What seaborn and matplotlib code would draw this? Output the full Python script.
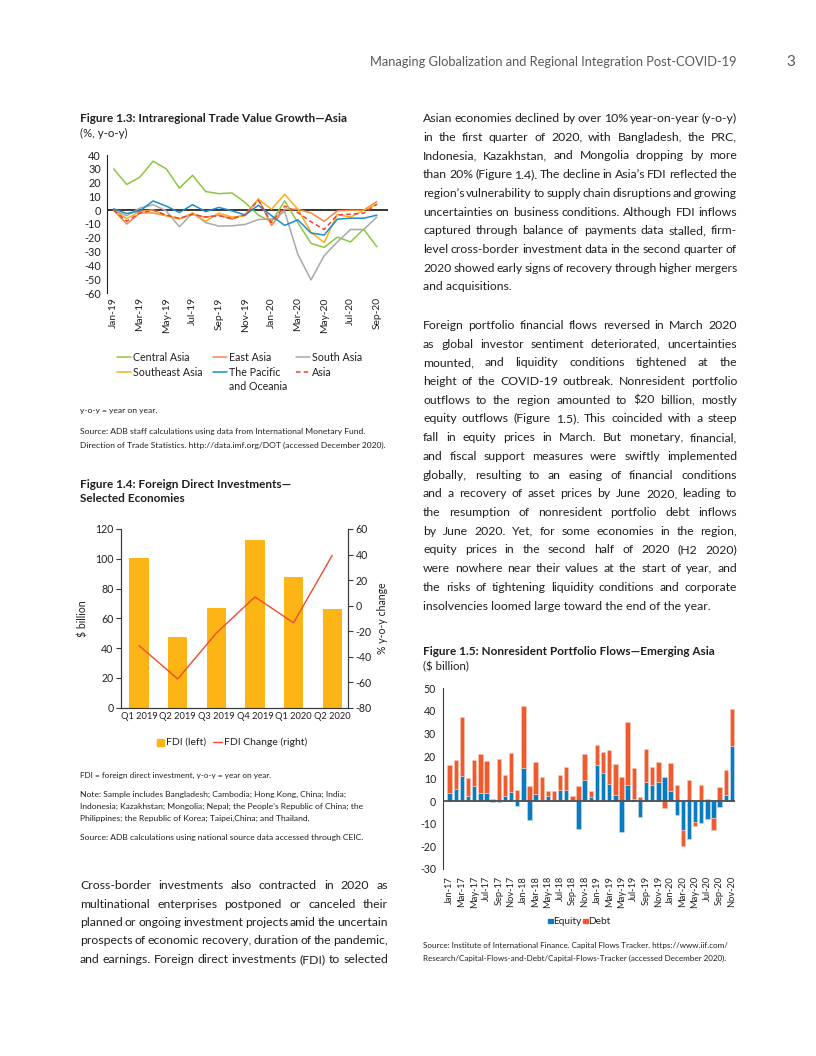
import numpy as np
import pandas as pd
import matplotlib
matplotlib.use("Agg")
import matplotlib.pyplot as plt
import seaborn as sns
from matplotlib.lines import Line2D
from matplotlib.patches import Rectangle

sns.set_theme(style="white")
plt.rcParams['font.family'] = ['Lato', 'DejaVu Sans']
plt.rcParams['axes.unicode_minus'] = False

# ---------------- Figure 1.3 data ----------------
months13 = ["Jan-19", "Feb-19", "Mar-19", "Apr-19", "May-19", "Jun-19", "Jul-19",
            "Aug-19", "Sep-19", "Oct-19", "Nov-19", "Dec-19", "Jan-20", "Feb-20",
            "Mar-20", "Apr-20", "May-20", "Jun-20", "Jul-20", "Aug-20", "Sep-20"]
central_asia = [30, 18.6, 24, 35.5, 30, 16, 25.3, 13.5, 12, 12.5, 5.5, -3.6, -8.5, 6.7,
                -9, -24, -27, -19.5, -23, -13.7, -26.5]
east_asia = [0, -10, -2, -2, -4, -6, -3, -5, -3.5, -6.5, -3, 8, -11, 0.7, 0.7, -2, -8,
             -0.5, 0, 0, 6.3]
south_asia = [0, -4, 1.5, 4, -0.5, -12, -2, -9, -11.5, -11.3, -10.3, -6.8, -6.3, -1,
              -32, -50.5, -33, -23, -14, -14, -5]
southeast_asia = [0, -6, -1, 0.3, -4, -6.5, -2, -8, -2, -5, -4, 8, 0.7, 11.5, 0.7, -16,
                  -23.4, -3, -5, 0, 4.3]
pacific = [1, -2.4, -0.5, 6.7, 3, -1.7, 4, -1, 2, -0.5, -3.4, 3.6, -4, -11, -7, -16.5,
           -18, -6.5, -5.8, -5.8, -3.6]
asia_total = [0, -8, -2, 0, -3.5, -6, -3, -5, -4, -6, -3.4, 7.2, -9, 3, -1.7, -8.4,
              -14, -3.4, -2.9, -2.2, 4.3]

# ---------------- Figure 1.4 data ----------------
quarters = ["Q1 2019", "Q2 2019", "Q3 2019", "Q4 2019", "Q1 2020", "Q2 2020"]
fdi = [100.5, 47.7, 66.8, 112.5, 88, 66.5]
fdi_change = [-31.4, -57.5, -21.5, 6.8, -13.5, 39.3]

# ---------------- Figure 1.5 data ----------------
months15 = ["Jan-17", "Feb-17", "Mar-17", "Apr-17", "May-17", "Jun-17", "Jul-17", "Aug-17",
            "Sep-17", "Oct-17", "Nov-17", "Dec-17", "Jan-18", "Feb-18", "Mar-18", "Apr-18",
            "May-18", "Jun-18", "Jul-18", "Aug-18", "Sep-18", "Oct-18", "Nov-18", "Dec-18",
            "Jan-19", "Feb-19", "Mar-19", "Apr-19", "May-19", "Jun-19", "Jul-19", "Aug-19",
            "Sep-19", "Oct-19", "Nov-19", "Dec-19", "Jan-20", "Feb-20", "Mar-20", "Apr-20",
            "May-20", "Jun-20", "Jul-20", "Aug-20", "Sep-20", "Oct-20", "Nov-20"]
equity = [3.4, 5.6, 11.1, 2.5, 6.8, 3.6, 3.6, -0.5, -0.3, 2.5, 4.1, -2.3, 14.5, -8.3, 3.1,
          0.7, 2.5, 0.4, 4.9, 4.9, 0.7, -12.5, 9.5, 1.8, 16.1, 12.3, 7.4, 2.8, -13.5, 7.0,
          1.0, -6.8, 8.4, 7.0, 8.7, 10.7, 4.3, -6.1, -12.8, -16.7, -9.3, -9.8, -8.1, -7.5,
          -2.6, 2.9, 24.5]
debt = [12.5, 12.6, 26.4, 7.6, 11.4, 17.4, 14.2, 0.8, 18.5, 8.9, 17.1, 4.9, 27.7, 6.7,
        14.2, 10.0, 1.9, 3.9, 6.8, 10.1, 1.5, 6.8, 11.5, 2.5, 8.6, 9.5, 15.4, 13.6, 10.7,
        28.1, 13.7, 1.8, 14.9, 8.0, 8.6, -3.1, 12.7, 7.0, -7.2, 9.2, -1.8, 7.0, 0.8, -5.3,
        6.1, 10.9, 16.5]

# ---------------- colours ----------------
C_CENTRAL = "#8cc63f"
C_EAST = "#f4874b"
C_SOUTH = "#a7a9ac"
C_SEA = "#fcaf17"
C_PAC = "#1c8ccd"
C_ASIA = "#ef4136"
C_GOLD = "#fdb515"
C_FDILINE = "#ef4b2f"
C_EQ = "#0b7bbf"
C_DEBT = "#ef5a2f"
TXT = "#231f20"

W, H = 816, 1056
fig = plt.figure(figsize=(W / 100, H / 100), dpi=100)
fig.patch.set_facecolor("white")


def fx(x):
    return x / W


def fy(y):
    return 1 - y / H


def axes_px(x0, y0, x1, y1):
    return fig.add_axes([fx(x0), fy(y1), (x1 - x0) / W, (y1 - y0) / H])


renderer = fig.canvas.get_renderer()


def justified(lines, x0, x1, y_first, dy, size, last_left=True, color=TXT):
    target = x1 - x0
    for i, line in enumerate(lines):
        yb = fy(y_first + i * dy)
        words = line.split()
        if (i == len(lines) - 1 and last_left) or len(words) == 1:
            fig.text(fx(x0), yb, line, fontsize=size, color=color, va="baseline", ha="left")
            continue
        fs = size
        ts = [fig.text(0, yb, w, fontsize=fs, color=color, va="baseline", ha="left")
              for w in words]
        widths = [t.get_window_extent(renderer).width for t in ts]
        min_gap = 1.8
        need = sum(widths) + min_gap * (len(words) - 1)
        if need > target:
            fs = size * (target - min_gap * (len(words) - 1)) / sum(widths)
            for t in ts:
                t.set_fontsize(fs)
            widths = [t.get_window_extent(renderer).width for t in ts]
        gap = (target - sum(widths)) / (len(words) - 1)
        x = x0
        for t, w in zip(ts, widths):
            t.set_x(fx(x))
            x += w + gap


def plain(lines, x0, y_first, dy, size, weight="normal", color=TXT):
    for i, line in enumerate(lines):
        fig.text(fx(x0), fy(y_first + i * dy), line, fontsize=size, color=color,
                 va="baseline", ha="left", fontweight=weight)


# ---------------- header ----------------
fig.text(fx(737), fy(62), "Managing Globalization and Regional Integration Post-COVID-19",
         ha="right", va="center", fontsize=9.3, color="#58595b")
fig.text(fx(791), fy(62), "3", ha="center", va="center", fontsize=11, color="#58595b")

# ---------------- Figure 1.3 ----------------
plain(["Figure 1.3: Intraregional Trade Value Growth\u2014Asia"], 80, 122, 0, 8.5, "bold")
plain(["(%, y-o-y)"], 80, 137, 0, 8.3)

ax1 = axes_px(107, 155, 388, 293)
idx13 = np.arange(len(months13))
series13 = [(central_asia, C_CENTRAL, "-"), (east_asia, C_EAST, "-"),
            (south_asia, C_SOUTH, "-"), (southeast_asia, C_SEA, "-"),
            (pacific, C_PAC, "-"), (asia_total, C_ASIA, (0, (3, 2)))]
ax1.axhline(0, color="black", lw=1.1, zorder=1)
for vals, col, ls in series13:
    sns.lineplot(x=idx13, y=vals, ax=ax1, color=col, linewidth=1.1, linestyle=ls, zorder=3)
ax1.set_ylim(-60, 40)
ax1.set_xlim(-0.5, 20.85)
ax1.set_yticks(range(-60, 41, 10))
ax1.set_yticklabels([str(v) for v in range(-60, 41, 10)], fontsize=7.8, color=TXT)
ax1.set_xticks(idx13[::2])
ax1.set_xticklabels(months13[::2], rotation=90, fontsize=7.4, color=TXT)
for s in ["top", "right", "bottom"]:
    ax1.spines[s].set_visible(False)
ax1.spines["left"].set_color(TXT)
ax1.spines["left"].set_linewidth(0.8)
ax1.tick_params(axis="y", direction="out", length=3, width=0.8, color=TXT, pad=1.5)
ax1.tick_params(axis="x", length=0, pad=3)
ax1.set_xlabel("")
ax1.set_ylabel("")

# legend (manual)
leg_items = [("Central Asia", C_CENTRAL, "-", 117, 357),
             ("East Asia", C_EAST, "-", 213, 357),
             ("South Asia", C_SOUTH, "-", 296, 357),
             ("Southeast Asia", C_SEA, "-", 117, 372),
             ("The Pacific", C_PAC, "-", 213, 372),
             ("Asia", C_ASIA, (0, (3, 2)), 296, 372)]
for lab, col, ls, x0, y0 in leg_items:
    fig.add_artist(Line2D([fx(x0), fx(x0 + 14)], [fy(y0), fy(y0)], color=col, lw=1.1,
                          linestyle=ls, transform=fig.transFigure))
    fig.text(fx(x0 + 16), fy(y0), lab, fontsize=7.7, color=TXT, va="center", ha="left")
fig.text(fx(229), fy(386), "and Oceania", fontsize=7.7, color=TXT, va="center", ha="left")

plain(["y-o-y = year on year."], 80, 413, 0, 6.1)
plain(["Source: ADB staff calculations using data from International Monetary Fund.",
       "Direction of Trade Statistics. http://data.imf.org/DOT (accessed December 2020)."],
      80, 434, 14, 6.1)

# ---------------- Figure 1.4 ----------------
plain(["Figure 1.4: Foreign Direct Investments\u2014", "Selected Economies"], 80, 488, 14, 8.5,
      "bold")

ax4 = axes_px(121, 529, 348, 707.7)
sns.barplot(x=quarters, y=fdi, color=C_GOLD, width=0.5, saturation=1, ax=ax4,
            linewidth=0, zorder=2)
ax4b = ax4.twinx()
sns.lineplot(x=np.arange(len(quarters)), y=fdi_change, ax=ax4b, color=C_FDILINE,
             linewidth=1.0, zorder=3)
ax4.set_ylim(0, 120)
ax4.set_yticks(range(0, 121, 20))
ax4.set_yticklabels([str(v) for v in range(0, 121, 20)], fontsize=7.6, color=TXT)
ax4b.set_ylim(-80, 60)
ax4b.set_yticks(range(-80, 61, 20))
ax4b.set_yticklabels([str(v) for v in range(-80, 61, 20)], fontsize=7.6, color=TXT)
ax4.set_xlim(-0.47, 5.41)
ax4b.set_xlim(-0.47, 5.41)
ax4.set_xticks(range(len(quarters)))
ax4.set_xticklabels(quarters, fontsize=6.7, color=TXT)
for a in (ax4, ax4b):
    a.spines["top"].set_visible(False)
    for s in ["left", "right", "bottom"]:
        a.spines[s].set_color("#3a3a3a")
        a.spines[s].set_linewidth(0.8)
ax4.tick_params(axis="y", direction="out", length=3.5, width=0.8, color="#3a3a3a", pad=2)
ax4b.tick_params(axis="y", direction="out", length=3.5, width=0.8, color="#3a3a3a", pad=2)
ax4.tick_params(axis="x", length=0, pad=3)
ax4.set_xlabel("")
ax4.set_ylabel("$ billion", fontsize=7.6, color=TXT, labelpad=5)
ax4b.set_ylabel("% y-o-y change", fontsize=7.6, color=TXT, rotation=90, labelpad=4)
ax4.grid(False)
ax4b.grid(False)

# legend
fig.add_artist(Rectangle((fx(157), fy(745.5)), 7 / W, 7 / H, color=C_GOLD,
                         transform=fig.transFigure))
fig.text(fx(166), fy(742), "FDI (left)", fontsize=7.5, color=TXT, va="center", ha="left")
fig.add_artist(Line2D([fx(213), fx(222)], [fy(742), fy(742)], color=C_FDILINE, lw=1.0,
                      transform=fig.transFigure))
fig.text(fx(224), fy(742), "FDI Change (right)", fontsize=7.5, color=TXT, va="center",
         ha="left")

plain(["FDI = foreign direct investment, y-o-y = year on year."], 80, 778, 0, 5.9)
plain(["Note: Sample includes Bangladesh; Cambodia; Hong Kong, China; India;",
       "Indonesia; Kazakhstan; Mongolia; Nepal; the People\u2019s Republic of China; the",
       "Philippines; the Republic of Korea; Taipei,China; and Thailand."], 80, 797, 12, 6.1)
plain(["Source: ADB calculations using national source data accessed through CEIC."],
      80, 840, 0, 6.1)

# ---------------- left column body ----------------
BODY = 8.85
left_para = ["Cross-border investments also contracted in 2020 as",
             "multinational enterprises postponed or canceled their",
             "planned or ongoing investment projects amid the uncertain",
             "prospects of economic recovery, duration of the pandemic,",
             "and earnings. Foreign direct investments (FDI) to selected"]
justified(left_para, 80, 388, 889, 18.5, BODY, last_left=False)

# ---------------- right column body ----------------
para1 = ["Asian economies declined by over 10% year-on-year (y-o-y)",
         "in the first quarter of 2020, with Bangladesh, the PRC,",
         "Indonesia, Kazakhstan, and Mongolia dropping by more",
         "than 20% (Figure 1.4). The decline in Asia\u2019s FDI reflected the",
         "region\u2019s vulnerability to supply chain disruptions and growing",
         "uncertainties on business conditions. Although FDI inflows",
         "captured through balance of payments data stalled, firm-",
         "level cross-border investment data in the second quarter of",
         "2020 showed early signs of recovery through higher mergers",
         "and acquisitions."]
justified(para1, 423, 737, 122, 18.7, BODY)

para2 = ["Foreign portfolio financial flows reversed in March 2020",
         "as global investor sentiment deteriorated, uncertainties",
         "mounted, and liquidity conditions tightened at the",
         "height of the COVID-19 outbreak. Nonresident portfolio",
         "outflows to the region amounted to $20 billion, mostly",
         "equity outflows (Figure 1.5). This coincided with a steep",
         "fall in equity prices in March. But monetary, financial,",
         "and fiscal support measures were swiftly implemented",
         "globally, resulting to an easing of financial conditions",
         "and a recovery of asset prices by June 2020, leading to",
         "the resumption of nonresident portfolio debt inflows",
         "by June 2020. Yet, for some economies in the region,",
         "equity prices in the second half of 2020 (H2 2020)",
         "were nowhere near their values at the start of year, and",
         "the risks of tightening liquidity conditions and corporate",
         "insolvencies loomed large toward the end of the year."]
justified(para2, 423, 737, 329, 18.7, BODY)

# ---------------- Figure 1.5 ----------------
plain(["Figure 1.5: Nonresident Portfolio Flows\u2014Emerging Asia"], 423, 655, 0, 8.5, "bold")
plain(["($ billion)"], 423, 670, 0, 8.3)

ax5 = axes_px(443, 688.3, 735, 868.9)
idx15 = np.arange(len(months15))
eq = np.array(equity)
de = np.array(debt)
debt_bottom = np.where(np.sign(eq) == np.sign(de), eq, 0.0)
ax5.bar(idx15, eq, width=0.72, color=C_EQ, linewidth=0.4, edgecolor="#cfe3f1", zorder=2)
ax5.bar(idx15, de, bottom=debt_bottom, width=0.72, color=C_DEBT, linewidth=0.4,
        edgecolor="#f8c9b8", zorder=2)
ax5.axhline(0, color="#4d4d4f", lw=1.3, zorder=3)
ax5.set_ylim(-30, 50)
ax5.set_xlim(-1.09, 46.5)
ax5.set_yticks(range(-30, 51, 10))
ax5.set_yticklabels([str(v) for v in range(-30, 51, 10)], fontsize=7.6, color=TXT)
ax5.set_xticks(idx15[::2])
ax5.set_xticklabels(months15[::2], rotation=90, fontsize=6.7, color=TXT)
for s in ["top", "right", "bottom"]:
    ax5.spines[s].set_visible(False)
ax5.spines["left"].set_color("#3a3a3a")
ax5.spines["left"].set_linewidth(0.8)
ax5.tick_params(axis="y", direction="out", length=3, width=0.8, color="#3a3a3a", pad=2)
ax5.tick_params(axis="x", length=0, pad=5)
ax5.grid(False)

# legend
fig.add_artist(Rectangle((fx(548), fy(923)), 4.5 / W, 4.5 / H, color=C_EQ,
                         transform=fig.transFigure))
fig.text(fx(553.5), fy(921), "Equity", fontsize=7.3, color=TXT, va="center", ha="left")
fig.add_artist(Rectangle((fx(583), fy(923)), 4.5 / W, 4.5 / H, color=C_DEBT,
                         transform=fig.transFigure))
fig.text(fx(588.5), fy(921), "Debt", fontsize=7.3, color=TXT, va="center", ha="left")

plain(["Source: Institute of International Finance. Capital Flows Tracker. https://www.iif.com/",
       "Research/Capital-Flows-and-Debt/Capital-Flows-Tracker (accessed December 2020)."],
      423, 948, 13, 5.8)

fig.savefig("out.png", dpi=100, facecolor="white")
